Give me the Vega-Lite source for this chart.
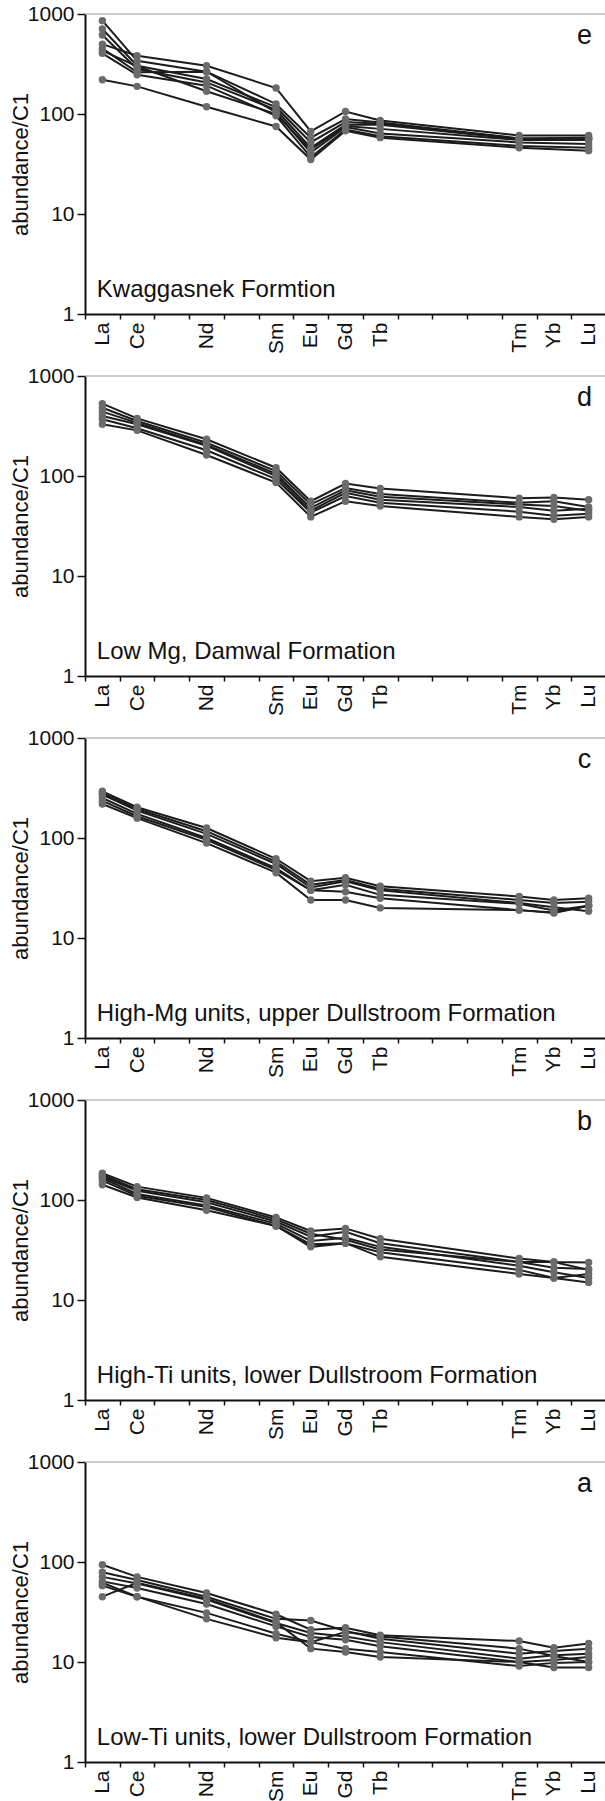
{
  "$schema": "https://vega.github.io/schema/vega-lite/v6.json",
  "background": "white",
  "padding": {"left": 9, "top": 3, "right": 0, "bottom": 0},
  "spacing": 62,
  "bounds": "flush",
  "config": {
    "view": {"stroke": null},
    "font": "Liberation Sans",
    "axis": {"grid": false, "labelFont": "Liberation Sans", "titleFont": "Liberation Sans", "labelColor": "#111", "titleColor": "#111", "domainColor": "#111", "tickColor": "#111"}
  },
  "datasets": {
    "elements": [
      {"element": "La", "z": 57}, {"element": "Ce", "z": 58}, {"element": "Nd", "z": 60},
      {"element": "Sm", "z": 62}, {"element": "Eu", "z": 63}, {"element": "Gd", "z": 64},
      {"element": "Tb", "z": 65}, {"element": "Tm", "z": 69}, {"element": "Yb", "z": 70},
      {"element": "Lu", "z": 71}
    ],
    "labels": [
      {"panel": "e", "letter": "e", "caption": "Kwaggasnek Formtion"},
      {"panel": "d", "letter": "d", "caption": "Low Mg, Damwal Formation"},
      {"panel": "c", "letter": "c", "caption": "High-Mg units, upper Dullstroom Formation"},
      {"panel": "b", "letter": "b", "caption": "High-Ti units, lower Dullstroom Formation"},
      {"panel": "a", "letter": "a", "caption": "Low-Ti units, lower Dullstroom Formation"}
    ],
    "samples": [
      {"panel": "e", "sample": "e1", "La": 500, "Ce": 383, "Nd": 304, "Sm": 182, "Eu": 67, "Gd": 106, "Tb": 86, "Tm": 61, "Yb": null, "Lu": 61},
      {"panel": "e", "sample": "e2", "La": 858, "Ce": 340, "Nd": 265, "Sm": 126, "Eu": 58, "Gd": 89, "Tb": 82, "Tm": 57, "Yb": null, "Lu": 58},
      {"panel": "e", "sample": "e3", "La": 708, "Ce": 304, "Nd": 224, "Sm": 117, "Eu": 52, "Gd": 83, "Tb": 80, "Tm": 57, "Yb": null, "Lu": 57},
      {"panel": "e", "sample": "e4", "La": 617, "Ce": 282, "Nd": 207, "Sm": 110, "Eu": 46, "Gd": 78, "Tb": 78, "Tm": 56, "Yb": null, "Lu": 56},
      {"panel": "e", "sample": "e5", "La": 453, "Ce": 261, "Nd": 265, "Sm": 104, "Eu": 41, "Gd": 74, "Tb": 64, "Tm": 52, "Yb": null, "Lu": 50},
      {"panel": "e", "sample": "e6", "La": 404, "Ce": 247, "Nd": 192, "Sm": 96, "Eu": 37, "Gd": 70, "Tb": 60, "Tm": 48, "Yb": null, "Lu": 46},
      {"panel": "e", "sample": "e7", "La": 220, "Ce": 189, "Nd": 118, "Sm": 75, "Eu": 35, "Gd": 68, "Tb": 58, "Tm": 46, "Yb": null, "Lu": 43},
      {"panel": "e", "sample": "e8", "La": 430, "Ce": 300, "Nd": 169, "Sm": 100, "Eu": 44, "Gd": 76, "Tb": 71, "Tm": 55, "Yb": null, "Lu": 55},

      {"panel": "d", "sample": "d1", "La": 529, "Ce": 377, "Nd": 233, "Sm": 121, "Eu": 56, "Gd": 84, "Tb": 75, "Tm": 60, "Yb": 61, "Lu": 58},
      {"panel": "d", "sample": "d2", "La": 482, "Ce": 355, "Nd": 215, "Sm": 112, "Eu": 52, "Gd": 76, "Tb": 66, "Tm": 54, "Yb": 56, "Lu": 49},
      {"panel": "d", "sample": "d3", "La": 440, "Ce": 340, "Nd": 205, "Sm": 105, "Eu": 48, "Gd": 72, "Tb": 62, "Tm": 52, "Yb": 50, "Lu": 45},
      {"panel": "d", "sample": "d4", "La": 398, "Ce": 329, "Nd": 200, "Sm": 100, "Eu": 45, "Gd": 68, "Tb": 58, "Tm": 49, "Yb": 45, "Lu": 47},
      {"panel": "d", "sample": "d5", "La": 370, "Ce": 300, "Nd": 181, "Sm": 93, "Eu": 43, "Gd": 63, "Tb": 54, "Tm": 44, "Yb": 40, "Lu": 42},
      {"panel": "d", "sample": "d6", "La": 329, "Ce": 286, "Nd": 162, "Sm": 86, "Eu": 39, "Gd": 56, "Tb": 50, "Tm": 39, "Yb": 37, "Lu": 39},

      {"panel": "c", "sample": "c1", "La": 293, "Ce": 203, "Nd": 126, "Sm": 62, "Eu": 37, "Gd": 40, "Tb": 33, "Tm": 26, "Yb": 24, "Lu": 25},
      {"panel": "c", "sample": "c2", "La": 280, "Ce": 195, "Nd": 117, "Sm": 58, "Eu": 34, "Gd": 38, "Tb": 31, "Tm": 24, "Yb": 22.4, "Lu": 23},
      {"panel": "c", "sample": "c3", "La": 271, "Ce": 188, "Nd": 110, "Sm": 55, "Eu": 32, "Gd": 37, "Tb": 30, "Tm": 22.4, "Yb": 20.3, "Lu": 18.5},
      {"panel": "c", "sample": "c4", "La": 251, "Ce": 174, "Nd": 100, "Sm": 50, "Eu": 30, "Gd": 34, "Tb": 27, "Tm": 22, "Yb": 18.8, "Lu": 21},
      {"panel": "c", "sample": "c5", "La": 235, "Ce": 165, "Nd": 96, "Sm": 48, "Eu": 30, "Gd": 29, "Tb": 25, "Tm": 19, "Yb": 17.8, "Lu": 21},
      {"panel": "c", "sample": "c6", "La": 219, "Ce": 158, "Nd": 89, "Sm": 45, "Eu": 24, "Gd": 24, "Tb": 20, "Tm": 19, "Yb": 18, "Lu": 21},

      {"panel": "b", "sample": "b1", "La": 185, "Ce": 136, "Nd": 105, "Sm": 67, "Eu": 49, "Gd": 52, "Tb": 41, "Tm": 26, "Yb": 24, "Lu": 23.7},
      {"panel": "b", "sample": "b2", "La": 171, "Ce": 124, "Nd": 95, "Sm": 61, "Eu": 43, "Gd": 48, "Tb": 37, "Tm": 24, "Yb": 21, "Lu": 20.4},
      {"panel": "b", "sample": "b3", "La": 165, "Ce": 115, "Nd": 88, "Sm": 58, "Eu": 39, "Gd": 42, "Tb": 34, "Tm": 22, "Yb": 18.9, "Lu": 16.6},
      {"panel": "b", "sample": "b4", "La": 156, "Ce": 110, "Nd": 85, "Sm": 55, "Eu": 36, "Gd": 37, "Tb": 30, "Tm": 20, "Yb": 16.6, "Lu": 15},
      {"panel": "b", "sample": "b5", "La": 142, "Ce": 106, "Nd": 79, "Sm": 55, "Eu": 34, "Gd": 37, "Tb": 27, "Tm": 18.2, "Yb": 16.6, "Lu": 18.2},
      {"panel": "b", "sample": "b6", "La": 178, "Ce": 128, "Nd": 100, "Sm": 64, "Eu": 46, "Gd": 40, "Tb": 32, "Tm": 24, "Yb": 24, "Lu": 20},

      {"panel": "a", "sample": "a1", "La": 94, "Ce": 71, "Nd": 49, "Sm": 30, "Eu": 21, "Gd": 22, "Tb": 18.5, "Tm": 16.2, "Yb": 13.9, "Lu": 15.3},
      {"panel": "a", "sample": "a2", "La": 79, "Ce": 66, "Nd": 45, "Sm": 27, "Eu": 26, "Gd": 20.4, "Tb": 17.1, "Tm": 12.1, "Yb": 12.9, "Lu": 13.6},
      {"panel": "a", "sample": "a3", "La": 71, "Ce": 61, "Nd": 42, "Sm": 24.5, "Eu": 19.5, "Gd": 18, "Tb": 15.8, "Tm": 10.8, "Yb": 11.7, "Lu": 12.1},
      {"panel": "a", "sample": "a4", "La": 64, "Ce": 55, "Nd": 38, "Sm": 22.7, "Eu": 17.8, "Gd": 16.7, "Tb": 14.4, "Tm": 10, "Yb": 10.5, "Lu": 11.2},
      {"panel": "a", "sample": "a5", "La": 58, "Ce": 45, "Nd": 31, "Sm": 19.2, "Eu": 15.8, "Gd": 13.6, "Tb": 12.6, "Tm": 9.1, "Yb": 9.8, "Lu": 10},
      {"panel": "a", "sample": "a6", "La": 45, "Ce": 62, "Nd": 43, "Sm": 25, "Eu": 13.6, "Gd": 12.6, "Tb": 11.2, "Tm": 10, "Yb": 8.8, "Lu": 8.8},
      {"panel": "a", "sample": "a7", "La": 62, "Ce": 45, "Nd": 27, "Sm": 17.5, "Eu": 15.8, "Gd": 20, "Tb": 18, "Tm": 13.6, "Yb": 11.5, "Lu": 10}
    ]
  },
  "vconcat": [
    {
      "width": 521, "height": 300,
      "layer": [
        {"data": {"values": [{}]}, "mark": {"type": "rule", "color": "#9a9a9a", "strokeWidth": 1}, "encoding": {"y": {"datum": 1000, "type": "quantitative"}}},
        {"data": {"name": "samples"},
         "transform": [{"filter": "datum.panel == 'e'"}, {"fold": ["La","Ce","Nd","Sm","Eu","Gd","Tb","Tm","Yb","Lu"], "as": ["element","value"]}, {"filter": "isValid(datum.value)"}, {"lookup": "element", "from": {"data": {"name": "elements"}, "key": "element", "fields": ["z"]}}],
         "resolve": {"axis": {"x": "independent"}},
         "layer": [
          {"mark": {"type": "line", "color": "#1c1c1c", "strokeWidth": 2}, "encoding": {"x": {"field": "z", "type": "quantitative", "scale": {"domain": [56.5, 71.5], "nice": false, "zero": false}, "axis": {"title": null, "orient": "bottom", "values": [56.5,57.5,58.5,59.5,60.5,61.5,62.5,63.5,64.5,65.5,66.5,67.5,68.5,69.5,70.5,71.5], "labels": false, "tickSize": 5, "tickWidth": 1.5, "domainWidth": 2}}, "y": {"field": "value", "type": "quantitative", "scale": {"type": "log", "domain": [1, 1000], "nice": false}, "axis": {"title": "abundance/C1", "titleFontSize": 22, "titleFontWeight": "normal", "titlePadding": -5, "values": [1, 10, 100, 1000], "format": "d", "labelFontSize": 21, "labelPadding": 3, "tickSize": 8, "tickWidth": 1.5, "domainWidth": 2}}, "detail": {"field": "sample"}, "order": {"field": "z"}}},
          {"mark": {"type": "circle", "color": "#6b6b6b", "opacity": 1, "size": 55}, "encoding": {"x": {"field": "z", "type": "quantitative", "axis": {"title": null, "orient": "bottom", "values": [57,58,60,62,63,64,65,69,70,71], "labelExpr": "datum.value == 57 ? 'La' : datum.value == 58 ? 'Ce' : datum.value == 60 ? 'Nd' : datum.value == 62 ? 'Sm' : datum.value == 63 ? 'Eu' : datum.value == 64 ? 'Gd' : datum.value == 65 ? 'Tb' : datum.value == 69 ? 'Tm' : datum.value == 70 ? 'Yb' : 'Lu'", "labelAngle": 270, "labelAlign": "right", "labelBaseline": "middle", "labelFontSize": 21, "labelPadding": 8, "labelFlush": false, "labelOverlap": false, "labelBound": false, "ticks": false, "tickSize": 0, "domain": false}}, "y": {"field": "value", "type": "quantitative"}}}
         ]},
        {"data": {"name": "labels"}, "transform": [{"filter": "datum.panel == 'e'"}],
         "layer": [
          {"mark": {"type": "text", "fontSize": 24, "align": "left", "baseline": "alphabetic", "color": "#111"}, "encoding": {"x": {"datum": 56.84, "type": "quantitative", "axis": null}, "y": {"datum": 1.47, "type": "quantitative"}, "text": {"field": "caption"}}},
          {"mark": {"type": "text", "fontSize": 27, "align": "center", "baseline": "alphabetic", "color": "#111"}, "encoding": {"x": {"datum": 70.88, "type": "quantitative", "axis": null}, "y": {"datum": 500, "type": "quantitative"}, "text": {"field": "letter"}}}
         ]}
      ]
    },
    {
      "width": 521, "height": 300,
      "layer": [
        {"data": {"values": [{}]}, "mark": {"type": "rule", "color": "#9a9a9a", "strokeWidth": 1}, "encoding": {"y": {"datum": 1000, "type": "quantitative"}}},
        {"data": {"name": "samples"},
         "transform": [{"filter": "datum.panel == 'd'"}, {"fold": ["La","Ce","Nd","Sm","Eu","Gd","Tb","Tm","Yb","Lu"], "as": ["element","value"]}, {"filter": "isValid(datum.value)"}, {"lookup": "element", "from": {"data": {"name": "elements"}, "key": "element", "fields": ["z"]}}],
         "resolve": {"axis": {"x": "independent"}},
         "layer": [
          {"mark": {"type": "line", "color": "#1c1c1c", "strokeWidth": 2}, "encoding": {"x": {"field": "z", "type": "quantitative", "scale": {"domain": [56.5, 71.5], "nice": false, "zero": false}, "axis": {"title": null, "orient": "bottom", "values": [56.5,57.5,58.5,59.5,60.5,61.5,62.5,63.5,64.5,65.5,66.5,67.5,68.5,69.5,70.5,71.5], "labels": false, "tickSize": 5, "tickWidth": 1.5, "domainWidth": 2}}, "y": {"field": "value", "type": "quantitative", "scale": {"type": "log", "domain": [1, 1000], "nice": false}, "axis": {"title": "abundance/C1", "titleFontSize": 22, "titleFontWeight": "normal", "titlePadding": -5, "values": [1, 10, 100, 1000], "format": "d", "labelFontSize": 21, "labelPadding": 3, "tickSize": 8, "tickWidth": 1.5, "domainWidth": 2}}, "detail": {"field": "sample"}, "order": {"field": "z"}}},
          {"mark": {"type": "circle", "color": "#6b6b6b", "opacity": 1, "size": 55}, "encoding": {"x": {"field": "z", "type": "quantitative", "axis": {"title": null, "orient": "bottom", "values": [57,58,60,62,63,64,65,69,70,71], "labelExpr": "datum.value == 57 ? 'La' : datum.value == 58 ? 'Ce' : datum.value == 60 ? 'Nd' : datum.value == 62 ? 'Sm' : datum.value == 63 ? 'Eu' : datum.value == 64 ? 'Gd' : datum.value == 65 ? 'Tb' : datum.value == 69 ? 'Tm' : datum.value == 70 ? 'Yb' : 'Lu'", "labelAngle": 270, "labelAlign": "right", "labelBaseline": "middle", "labelFontSize": 21, "labelPadding": 8, "labelFlush": false, "labelOverlap": false, "labelBound": false, "ticks": false, "tickSize": 0, "domain": false}}, "y": {"field": "value", "type": "quantitative"}}}
         ]},
        {"data": {"name": "labels"}, "transform": [{"filter": "datum.panel == 'd'"}],
         "layer": [
          {"mark": {"type": "text", "fontSize": 24, "align": "left", "baseline": "alphabetic", "color": "#111"}, "encoding": {"x": {"datum": 56.84, "type": "quantitative", "axis": null}, "y": {"datum": 1.47, "type": "quantitative"}, "text": {"field": "caption"}}},
          {"mark": {"type": "text", "fontSize": 27, "align": "center", "baseline": "alphabetic", "color": "#111"}, "encoding": {"x": {"datum": 70.88, "type": "quantitative", "axis": null}, "y": {"datum": 500, "type": "quantitative"}, "text": {"field": "letter"}}}
         ]}
      ]
    },
    {
      "width": 521, "height": 300,
      "layer": [
        {"data": {"values": [{}]}, "mark": {"type": "rule", "color": "#9a9a9a", "strokeWidth": 1}, "encoding": {"y": {"datum": 1000, "type": "quantitative"}}},
        {"data": {"name": "samples"},
         "transform": [{"filter": "datum.panel == 'c'"}, {"fold": ["La","Ce","Nd","Sm","Eu","Gd","Tb","Tm","Yb","Lu"], "as": ["element","value"]}, {"filter": "isValid(datum.value)"}, {"lookup": "element", "from": {"data": {"name": "elements"}, "key": "element", "fields": ["z"]}}],
         "resolve": {"axis": {"x": "independent"}},
         "layer": [
          {"mark": {"type": "line", "color": "#1c1c1c", "strokeWidth": 2}, "encoding": {"x": {"field": "z", "type": "quantitative", "scale": {"domain": [56.5, 71.5], "nice": false, "zero": false}, "axis": {"title": null, "orient": "bottom", "values": [56.5,57.5,58.5,59.5,60.5,61.5,62.5,63.5,64.5,65.5,66.5,67.5,68.5,69.5,70.5,71.5], "labels": false, "tickSize": 5, "tickWidth": 1.5, "domainWidth": 2}}, "y": {"field": "value", "type": "quantitative", "scale": {"type": "log", "domain": [1, 1000], "nice": false}, "axis": {"title": "abundance/C1", "titleFontSize": 22, "titleFontWeight": "normal", "titlePadding": -5, "values": [1, 10, 100, 1000], "format": "d", "labelFontSize": 21, "labelPadding": 3, "tickSize": 8, "tickWidth": 1.5, "domainWidth": 2}}, "detail": {"field": "sample"}, "order": {"field": "z"}}},
          {"mark": {"type": "circle", "color": "#6b6b6b", "opacity": 1, "size": 55}, "encoding": {"x": {"field": "z", "type": "quantitative", "axis": {"title": null, "orient": "bottom", "values": [57,58,60,62,63,64,65,69,70,71], "labelExpr": "datum.value == 57 ? 'La' : datum.value == 58 ? 'Ce' : datum.value == 60 ? 'Nd' : datum.value == 62 ? 'Sm' : datum.value == 63 ? 'Eu' : datum.value == 64 ? 'Gd' : datum.value == 65 ? 'Tb' : datum.value == 69 ? 'Tm' : datum.value == 70 ? 'Yb' : 'Lu'", "labelAngle": 270, "labelAlign": "right", "labelBaseline": "middle", "labelFontSize": 21, "labelPadding": 8, "labelFlush": false, "labelOverlap": false, "labelBound": false, "ticks": false, "tickSize": 0, "domain": false}}, "y": {"field": "value", "type": "quantitative"}}}
         ]},
        {"data": {"name": "labels"}, "transform": [{"filter": "datum.panel == 'c'"}],
         "layer": [
          {"mark": {"type": "text", "fontSize": 24, "align": "left", "baseline": "alphabetic", "color": "#111"}, "encoding": {"x": {"datum": 56.84, "type": "quantitative", "axis": null}, "y": {"datum": 1.47, "type": "quantitative"}, "text": {"field": "caption"}}},
          {"mark": {"type": "text", "fontSize": 27, "align": "center", "baseline": "alphabetic", "color": "#111"}, "encoding": {"x": {"datum": 70.88, "type": "quantitative", "axis": null}, "y": {"datum": 500, "type": "quantitative"}, "text": {"field": "letter"}}}
         ]}
      ]
    },
    {
      "width": 521, "height": 300,
      "layer": [
        {"data": {"values": [{}]}, "mark": {"type": "rule", "color": "#9a9a9a", "strokeWidth": 1}, "encoding": {"y": {"datum": 1000, "type": "quantitative"}}},
        {"data": {"name": "samples"},
         "transform": [{"filter": "datum.panel == 'b'"}, {"fold": ["La","Ce","Nd","Sm","Eu","Gd","Tb","Tm","Yb","Lu"], "as": ["element","value"]}, {"filter": "isValid(datum.value)"}, {"lookup": "element", "from": {"data": {"name": "elements"}, "key": "element", "fields": ["z"]}}],
         "resolve": {"axis": {"x": "independent"}},
         "layer": [
          {"mark": {"type": "line", "color": "#1c1c1c", "strokeWidth": 2}, "encoding": {"x": {"field": "z", "type": "quantitative", "scale": {"domain": [56.5, 71.5], "nice": false, "zero": false}, "axis": {"title": null, "orient": "bottom", "values": [56.5,57.5,58.5,59.5,60.5,61.5,62.5,63.5,64.5,65.5,66.5,67.5,68.5,69.5,70.5,71.5], "labels": false, "tickSize": 5, "tickWidth": 1.5, "domainWidth": 2}}, "y": {"field": "value", "type": "quantitative", "scale": {"type": "log", "domain": [1, 1000], "nice": false}, "axis": {"title": "abundance/C1", "titleFontSize": 22, "titleFontWeight": "normal", "titlePadding": -5, "values": [1, 10, 100, 1000], "format": "d", "labelFontSize": 21, "labelPadding": 3, "tickSize": 8, "tickWidth": 1.5, "domainWidth": 2}}, "detail": {"field": "sample"}, "order": {"field": "z"}}},
          {"mark": {"type": "circle", "color": "#6b6b6b", "opacity": 1, "size": 55}, "encoding": {"x": {"field": "z", "type": "quantitative", "axis": {"title": null, "orient": "bottom", "values": [57,58,60,62,63,64,65,69,70,71], "labelExpr": "datum.value == 57 ? 'La' : datum.value == 58 ? 'Ce' : datum.value == 60 ? 'Nd' : datum.value == 62 ? 'Sm' : datum.value == 63 ? 'Eu' : datum.value == 64 ? 'Gd' : datum.value == 65 ? 'Tb' : datum.value == 69 ? 'Tm' : datum.value == 70 ? 'Yb' : 'Lu'", "labelAngle": 270, "labelAlign": "right", "labelBaseline": "middle", "labelFontSize": 21, "labelPadding": 8, "labelFlush": false, "labelOverlap": false, "labelBound": false, "ticks": false, "tickSize": 0, "domain": false}}, "y": {"field": "value", "type": "quantitative"}}}
         ]},
        {"data": {"name": "labels"}, "transform": [{"filter": "datum.panel == 'b'"}],
         "layer": [
          {"mark": {"type": "text", "fontSize": 24, "align": "left", "baseline": "alphabetic", "color": "#111"}, "encoding": {"x": {"datum": 56.84, "type": "quantitative", "axis": null}, "y": {"datum": 1.47, "type": "quantitative"}, "text": {"field": "caption"}}},
          {"mark": {"type": "text", "fontSize": 27, "align": "center", "baseline": "alphabetic", "color": "#111"}, "encoding": {"x": {"datum": 70.88, "type": "quantitative", "axis": null}, "y": {"datum": 500, "type": "quantitative"}, "text": {"field": "letter"}}}
         ]}
      ]
    },
    {
      "width": 521, "height": 300,
      "layer": [
        {"data": {"values": [{}]}, "mark": {"type": "rule", "color": "#9a9a9a", "strokeWidth": 1}, "encoding": {"y": {"datum": 1000, "type": "quantitative"}}},
        {"data": {"name": "samples"},
         "transform": [{"filter": "datum.panel == 'a'"}, {"fold": ["La","Ce","Nd","Sm","Eu","Gd","Tb","Tm","Yb","Lu"], "as": ["element","value"]}, {"filter": "isValid(datum.value)"}, {"lookup": "element", "from": {"data": {"name": "elements"}, "key": "element", "fields": ["z"]}}],
         "resolve": {"axis": {"x": "independent"}},
         "layer": [
          {"mark": {"type": "line", "color": "#1c1c1c", "strokeWidth": 2}, "encoding": {"x": {"field": "z", "type": "quantitative", "scale": {"domain": [56.5, 71.5], "nice": false, "zero": false}, "axis": {"title": null, "orient": "bottom", "values": [56.5,57.5,58.5,59.5,60.5,61.5,62.5,63.5,64.5,65.5,66.5,67.5,68.5,69.5,70.5,71.5], "labels": false, "tickSize": 5, "tickWidth": 1.5, "domainWidth": 2}}, "y": {"field": "value", "type": "quantitative", "scale": {"type": "log", "domain": [1, 1000], "nice": false}, "axis": {"title": "abundance/C1", "titleFontSize": 22, "titleFontWeight": "normal", "titlePadding": -5, "values": [1, 10, 100, 1000], "format": "d", "labelFontSize": 21, "labelPadding": 3, "tickSize": 8, "tickWidth": 1.5, "domainWidth": 2}}, "detail": {"field": "sample"}, "order": {"field": "z"}}},
          {"mark": {"type": "circle", "color": "#6b6b6b", "opacity": 1, "size": 55}, "encoding": {"x": {"field": "z", "type": "quantitative", "axis": {"title": null, "orient": "bottom", "values": [57,58,60,62,63,64,65,69,70,71], "labelExpr": "datum.value == 57 ? 'La' : datum.value == 58 ? 'Ce' : datum.value == 60 ? 'Nd' : datum.value == 62 ? 'Sm' : datum.value == 63 ? 'Eu' : datum.value == 64 ? 'Gd' : datum.value == 65 ? 'Tb' : datum.value == 69 ? 'Tm' : datum.value == 70 ? 'Yb' : 'Lu'", "labelAngle": 270, "labelAlign": "right", "labelBaseline": "middle", "labelFontSize": 21, "labelPadding": 8, "labelFlush": false, "labelOverlap": false, "labelBound": false, "ticks": false, "tickSize": 0, "domain": false}}, "y": {"field": "value", "type": "quantitative"}}}
         ]},
        {"data": {"name": "labels"}, "transform": [{"filter": "datum.panel == 'a'"}],
         "layer": [
          {"mark": {"type": "text", "fontSize": 24, "align": "left", "baseline": "alphabetic", "color": "#111"}, "encoding": {"x": {"datum": 56.84, "type": "quantitative", "axis": null}, "y": {"datum": 1.47, "type": "quantitative"}, "text": {"field": "caption"}}},
          {"mark": {"type": "text", "fontSize": 27, "align": "center", "baseline": "alphabetic", "color": "#111"}, "encoding": {"x": {"datum": 70.88, "type": "quantitative", "axis": null}, "y": {"datum": 500, "type": "quantitative"}, "text": {"field": "letter"}}}
         ]}
      ]
    }
  ]
}
